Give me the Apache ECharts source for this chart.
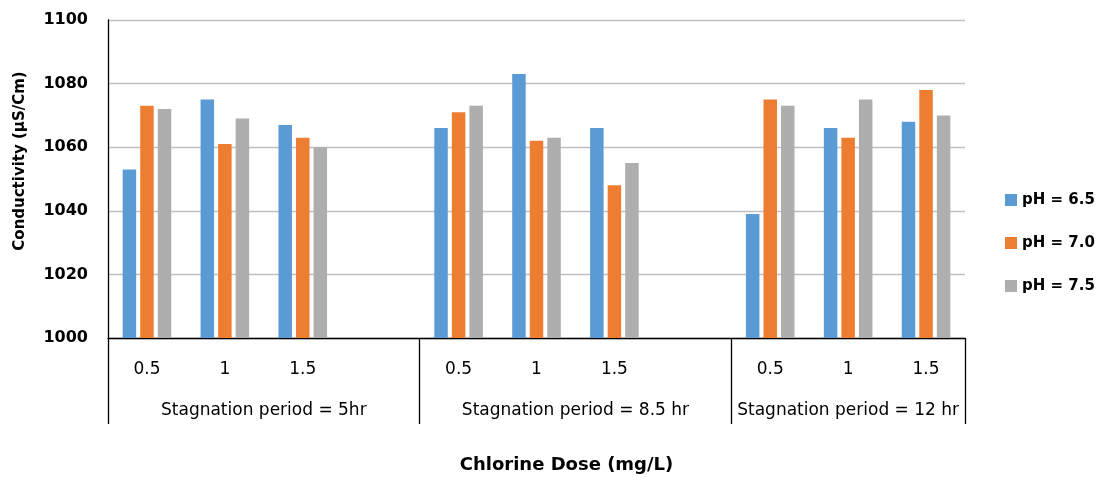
<!DOCTYPE html>
<html>
<head>
<meta charset="utf-8">
<script src="https://cdn.jsdelivr.net/npm/echarts@6/dist/echarts.min.js"></script>
<style>
html,body{margin:0;padding:0;background:#fff;}
#chart{width:1102px;height:477px;}
</style>
</head>
<body>
<div id="chart"></div>
<script>
// Chlorine dose categories (blank slot separates stagnation groups)
const doses = ['0.5', '1', '1.5', '', '0.5', '1', '1.5', '', '0.5', '1', '1.5'];
const groupLabels = ['Stagnation period = 5hr', 'Stagnation period = 8.5 hr', 'Stagnation period = 12 hr'];
const groupBounds = [0, 4, 8, 11];
const groupCenters = [2, 6, 9.5];
const seriesNames = ['pH = 6.5', 'pH = 7.0', 'pH = 7.5'];
const ph65 = [1053, 1075, 1067, null, 1066, 1083, 1066, null, 1039, 1066, 1068];
const ph70 = [1073, 1061, 1063, null, 1071, 1062, 1048, null, 1075, 1063, 1078];
const ph75 = [1072, 1069, 1060, null, 1073, 1063, 1055, null, 1073, 1075, 1070];
const yTicks = [1000, 1020, 1040, 1060, 1080, 1100];
const colors = ['#5B9BD5', '#ED7D31', '#AEAEAE'];

const FONT = 'DejaVu Sans';
const chart = echarts.init(document.getElementById('chart'), null, {renderer: 'canvas'});

const values = [ph65, ph70, ph75];
chart.setOption({
  animation: false,
  backgroundColor: '#ffffff',
  textStyle: {fontFamily: FONT},
  grid: {left: 108, right: 137, top: 20, bottom: 139, containLabel: false, outerBoundsMode: 'none'},
  legend: {
    orient: 'vertical',
    left: 1000,
    top: 187,
    itemWidth: 12,
    itemHeight: 12,
    itemGap: 27,
    icon: 'rect',
    data: seriesNames,
    textStyle: {fontFamily: FONT, fontWeight: 'bold', fontSize: 15, color: '#000', lineHeight: 16}
  },
  xAxis: [
    {
      type: 'category',
      data: doses,
      position: 'bottom',
      axisLine: {show: true, lineStyle: {color: '#000', width: 1.3}},
      axisTick: {show: false},
      axisLabel: {interval: 0, margin: 23, fontFamily: FONT, fontSize: 17, color: '#000'},
      name: 'Chlorine Dose (mg/L)',
      nameLocation: 'middle',
      nameGap: 118,
      nameTextStyle: {fontFamily: FONT, fontWeight: 'bold', fontSize: 18, color: '#000', padding: [0, 0, 0, 60]}
    },
    {
      type: 'value',
      min: 0,
      max: 11,
      position: 'bottom',
      axisLine: {show: false},
      splitLine: {show: false},
      axisTick: {show: true, customValues: groupBounds, length: 86, lineStyle: {color: '#000', width: 1.3}},
      axisLabel: {
        show: true,
        customValues: groupCenters,
        margin: 64,
        fontFamily: FONT, fontSize: 17, color: '#000',
        formatter: function (v) {
          const i = groupCenters.indexOf(v);
          return i >= 0 ? groupLabels[i] : '';
        }
      }
    }
  ],
  yAxis: {
    type: 'value',
    min: yTicks[0],
    max: yTicks[yTicks.length - 1],
    interval: 20,
    axisLine: {show: true, lineStyle: {color: '#000', width: 1.3}},
    axisTick: {show: false},
    splitLine: {show: true, lineStyle: {color: '#BFBFBF', width: 1.3}},
    axisLabel: {margin: 20, fontFamily: FONT, fontWeight: 'bold', fontSize: 16, color: '#000',
      formatter: function (v) { return String(v); }},
    name: 'Conductivity (µS/Cm)',
    nameLocation: 'middle',
    nameGap: 80,
    nameTextStyle: {fontFamily: FONT, fontWeight: 'bold', fontSize: 15, color: '#000', padding: [0, 0, 0, 36]}
  },
  series: seriesNames.map((n, i) => ({
    name: n,
    type: 'bar',
    xAxisIndex: 0,
    data: values[i],
    barWidth: 13.5,
    barGap: '30%',
    itemStyle: {color: colors[i]}
  }))
});
</script>
</body>
</html>
